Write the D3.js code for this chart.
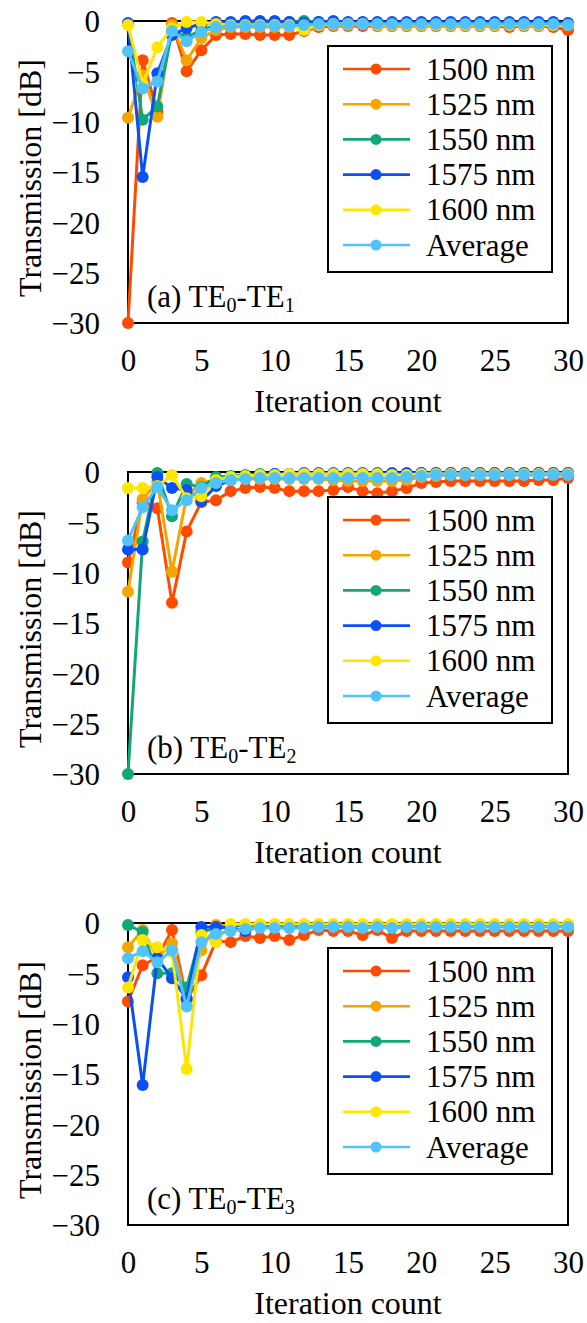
<!DOCTYPE html>
<html>
<head>
<meta charset="utf-8">
<script src="https://cdn.jsdelivr.net/npm/d3@7"></script>
<style>
  html, body { margin: 0; padding: 0; background: #fff; }
  svg text { font-family: "Liberation Serif", "Times New Roman", serif; fill: #000; }
</style>
</head>
<body>
<svg id="chart" width="587" height="1323"></svg>
<script>
// Iteration axis
const iterations = d3.range(0, 31);
const seriesNames = ["1500 nm", "1525 nm", "1550 nm", "1575 nm", "1600 nm", "Average"];
const seriesColors = ["#FF4A00", "#F5A500", "#10A878", "#0A50F5", "#FFE600", "#50C4FA"];
const xTicks = [0, 5, 10, 15, 20, 25, 30];
const yTicks = [0, -5, -10, -15, -20, -25, -30];
const panelLabels = [["(a) TE", "0", "-TE", "1"], ["(b) TE", "0", "-TE", "2"], ["(c) TE", "0", "-TE", "3"]];

// (a) TE0-TE1 transmission [dB] per iteration
const te1_1500 = [-30, -3.9, -9.0, -0.2, -5.0, -2.9, -1.4, -1.3, -1.3, -1.4, -1.4, -1.4, -1.0, -0.6, -0.5, -0.5, -0.5, -0.5, -0.5, -0.5, -0.5, -0.5, -0.5, -0.5, -0.5, -0.5, -0.6, -0.5, -0.5, -0.6, -0.9];
const te1_1525 = [-9.6, -5.4, -9.5, -0.4, -3.9, -1.7, -0.9, -0.6, -0.6, -0.6, -0.6, -0.6, -0.5, -0.4, -0.4, -0.4, -0.3, -0.3, -0.3, -0.3, -0.3, -0.3, -0.3, -0.3, -0.3, -0.3, -0.3, -0.3, -0.3, -0.3, -0.4];
const te1_1550 = [-0.3, -9.8, -8.5, -1.0, -1.6, -0.9, -0.4, -0.2, -0.2, -0.2, -0.2, -0.1, 0.0, -0.1, -0.2, -0.2, -0.2, -0.2, -0.2, -0.2, -0.2, -0.2, -0.2, -0.2, -0.2, -0.2, -0.2, -0.2, -0.2, -0.2, -0.3];
const te1_1575 = [-0.2, -15.5, -5.2, -1.4, -0.7, -0.3, -0.1, -0.1, 0.0, 0.0, 0.0, -0.1, -0.2, -0.1, 0.0, -0.1, -0.1, -0.1, -0.1, -0.1, -0.1, -0.1, -0.1, -0.1, -0.1, -0.1, -0.1, -0.1, -0.1, -0.1, -0.2];
const te1_1600 = [-0.4, -6.2, -2.6, -0.7, -0.1, -0.1, -0.3, -0.4, -0.4, -0.4, -0.4, -0.4, -0.9, -0.4, -0.3, -0.3, -0.3, -0.4, -0.4, -0.4, -0.4, -0.4, -0.4, -0.4, -0.4, -0.4, -0.4, -0.4, -0.4, -0.4, -0.4];
const te1_avg  = [-3.0, -6.7, -6.0, -1.0, -2.0, -1.1, -0.6, -0.5, -0.5, -0.5, -0.5, -0.5, -0.4, -0.3, -0.3, -0.3, -0.3, -0.3, -0.3, -0.3, -0.3, -0.3, -0.3, -0.3, -0.3, -0.3, -0.3, -0.3, -0.3, -0.3, -0.4];

// (b) TE0-TE2
const te2_1500 = [-9.0, -3.0, -3.6, -13.0, -5.9, -3.0, -2.8, -1.9, -1.6, -1.5, -1.6, -1.9, -1.9, -1.9, -1.8, -1.5, -1.9, -2.1, -1.9, -1.6, -1.1, -1.0, -0.9, -0.9, -0.9, -0.9, -0.9, -0.9, -0.8, -0.8, -0.6];
const te2_1525 = [-11.9, -2.7, -1.0, -9.9, -2.4, -1.1, -0.8, -0.8, -0.7, -0.7, -0.7, -0.7, -0.7, -0.7, -0.8, -0.9, -0.9, -0.9, -0.9, -0.8, -0.5, -0.4, -0.3, -0.3, -0.3, -0.3, -0.3, -0.2, -0.2, -0.2, -0.2];
const te2_1550 = [-30, -6.9, -0.1, -4.4, -1.2, -1.5, -0.5, -0.4, -0.3, -0.2, -0.2, -0.2, -0.2, -0.2, -0.2, -0.2, -0.2, -0.2, -0.2, -0.2, -0.1, -0.1, -0.1, -0.1, -0.1, -0.1, -0.1, -0.1, -0.1, -0.1, -0.1];
const te2_1575 = [-7.7, -7.7, -0.5, -1.6, -1.8, -2.9, -1.4, -0.8, -0.4, -0.3, -0.2, -0.2, -0.1, -0.1, -0.1, -0.1, -0.1, -0.1, -0.1, -0.1, -0.1, -0.1, -0.1, -0.1, -0.1, -0.1, -0.1, -0.1, -0.1, -0.1, -0.1];
const te2_1600 = [-1.6, -1.6, -1.4, -0.3, -2.6, -2.4, -0.8, -0.5, -0.4, -0.3, -0.3, -0.2, -0.2, -0.2, -0.2, -0.2, -0.2, -0.2, -0.3, -0.3, -0.2, -0.2, -0.2, -0.2, -0.2, -0.2, -0.2, -0.2, -0.2, -0.2, -0.2];
const te2_avg  = [-6.8, -3.5, -1.5, -3.8, -2.8, -1.6, -1.1, -0.8, -0.7, -0.6, -0.6, -0.6, -0.6, -0.6, -0.6, -0.6, -0.6, -0.6, -0.6, -0.5, -0.4, -0.3, -0.3, -0.3, -0.3, -0.3, -0.3, -0.3, -0.3, -0.3, -0.3];

// (c) TE0-TE3
const te3_1500 = [-7.8, -4.2, -3.4, -0.7, -7.6, -5.2, -1.8, -1.9, -1.3, -1.5, -1.3, -1.7, -1.2, -0.7, -0.8, -0.8, -1.2, -0.7, -1.5, -0.8, -0.8, -0.8, -0.8, -0.8, -0.8, -0.8, -0.8, -0.8, -0.8, -0.8, -0.8];
const te3_1525 = [-2.4, -0.7, -3.5, -2.0, -7.8, -2.7, -0.2, -0.3, -0.3, -0.2, -0.2, -0.2, -0.2, -0.2, -0.2, -0.2, -0.2, -0.2, -0.2, -0.2, -0.2, -0.2, -0.2, -0.2, -0.2, -0.2, -0.2, -0.2, -0.2, -0.2, -0.2];
const te3_1550 = [-0.2, -0.9, -5.0, -5.0, -6.4, -0.9, -0.5, -0.3, -0.2, -0.2, -0.2, -0.2, -0.2, -0.2, -0.2, -0.2, -0.2, -0.2, -0.2, -0.2, -0.2, -0.2, -0.2, -0.2, -0.2, -0.2, -0.2, -0.2, -0.2, -0.2, -0.2];
const te3_1575 = [-5.4, -16.1, -3.5, -5.5, -7.5, -0.4, -0.4, -0.5, -0.8, -0.3, -0.2, -0.3, -0.2, -0.2, -0.2, -0.2, -0.2, -0.2, -0.2, -0.2, -0.2, -0.2, -0.2, -0.2, -0.2, -0.2, -0.2, -0.2, -0.2, -0.2, -0.2];
const te3_1600 = [-6.4, -1.7, -2.4, -2.9, -14.5, -1.2, -1.9, -0.1, -0.1, -0.1, -0.1, -0.1, -0.1, -0.1, -0.1, -0.1, -0.1, -0.1, -0.1, -0.1, -0.1, -0.1, -0.1, -0.1, -0.1, -0.1, -0.1, -0.1, -0.1, -0.1, -0.1];
const te3_avg  = [-3.5, -2.8, -3.9, -2.7, -8.3, -1.9, -1.1, -0.8, -0.6, -0.5, -0.5, -0.5, -0.5, -0.4, -0.4, -0.4, -0.5, -0.4, -0.5, -0.4, -0.4, -0.4, -0.4, -0.4, -0.4, -0.4, -0.4, -0.4, -0.4, -0.4, -0.4];

const panels = [
  [te1_1500, te1_1525, te1_1550, te1_1575, te1_1600, te1_avg],
  [te2_1500, te2_1525, te2_1550, te2_1575, te2_1600, te2_avg],
  [te3_1500, te3_1525, te3_1550, te3_1575, te3_1600, te3_avg]
];

const svg = d3.select("#chart");
const FONT = 31;
const panelStep = 451;
const plotLeft = 128, plotRight = 568, plotTop = 21, plotBottom = 323;
const markerR = 6, lineW = 3;

const x = d3.scaleLinear().domain([0, 30]).range([plotLeft, plotRight]);

panels.forEach((series, p) => {
  const oy = p * panelStep;
  const y = d3.scaleLinear().domain([-30, 0]).range([plotBottom + oy, plotTop + oy]);
  const g = svg.append("g");

  // plot frame
  g.append("rect")
    .attr("x", plotLeft).attr("y", plotTop + oy)
    .attr("width", plotRight - plotLeft).attr("height", plotBottom - plotTop)
    .attr("fill", "none").attr("stroke", "#000").attr("stroke-width", 2);

  // y axis labels
  const yAxis = g.append("g")
    .attr("transform", `translate(${plotLeft},0)`)
    .call(d3.axisLeft(y).tickValues(yTicks).tickSize(0).tickPadding(28));
  yAxis.select(".domain").remove();
  yAxis.selectAll("text")
    .attr("font-size", FONT)
    .attr("font-family", "Liberation Serif, Times New Roman, serif")
    .attr("dy", "0.35em");

  // x axis labels
  const xAxis = g.append("g")
    .attr("transform", `translate(0,${plotBottom + oy})`)
    .call(d3.axisBottom(x).tickValues(xTicks).tickSize(0).tickPadding(26));
  xAxis.select(".domain").remove();
  xAxis.selectAll("text")
    .attr("font-size", FONT)
    .attr("font-family", "Liberation Serif, Times New Roman, serif");

  // axis titles
  g.append("text")
    .attr("transform", `translate(30,${178 + oy}) rotate(-90)`)
    .attr("text-anchor", "middle").attr("dominant-baseline", "central")
    .attr("font-size", 32)
    .text("Transmission [dB]");
  g.append("text")
    .attr("x", (plotLeft + plotRight) / 2).attr("y", 412 + oy)
    .attr("text-anchor", "middle")
    .attr("font-size", 32)
    .text("Iteration count");

  // series lines and markers
  const line = d3.line().x((d, i) => x(iterations[i])).y(d => y(d));
  series.forEach((vals, s) => {
    g.append("path")
      .datum(vals)
      .attr("d", line)
      .attr("fill", "none")
      .attr("stroke", seriesColors[s])
      .attr("stroke-width", lineW)
      .attr("stroke-linejoin", "round");
    g.selectAll(null)
      .data(vals)
      .enter().append("circle")
      .attr("cx", (d, i) => x(iterations[i]))
      .attr("cy", d => y(d))
      .attr("r", markerR)
      .attr("fill", seriesColors[s]);
  });

  // panel label
  const lab = panelLabels[p];
  const t = g.append("text").attr("x", 147).attr("y", 307 + oy).attr("font-size", 31);
  t.append("tspan").text(lab[0]);
  t.append("tspan").attr("font-size", 20).attr("dy", 5).text(lab[1]);
  t.append("tspan").attr("dy", -5).text(lab[2]);
  t.append("tspan").attr("font-size", 20).attr("dy", 5).text(lab[3]);

  // legend
  const lg = g.append("g");
  lg.append("rect")
    .attr("x", 328).attr("y", 46 + oy)
    .attr("width", 224).attr("height", 226)
    .attr("fill", "#fff").attr("stroke", "#000").attr("stroke-width", 2);
  seriesNames.forEach((name, s) => {
    const ly = 69 + oy + s * 35.2;
    lg.append("line")
      .attr("x1", 343).attr("x2", 410).attr("y1", ly).attr("y2", ly)
      .attr("stroke", seriesColors[s]).attr("stroke-width", 2.6);
    lg.append("circle")
      .attr("cx", 376).attr("cy", ly).attr("r", 5.5)
      .attr("fill", seriesColors[s]);
    lg.append("text")
      .attr("x", 426).attr("y", ly)
      .attr("dominant-baseline", "central")
      .attr("font-size", FONT)
      .text(name);
  });
});
</script>
</body>
</html>
